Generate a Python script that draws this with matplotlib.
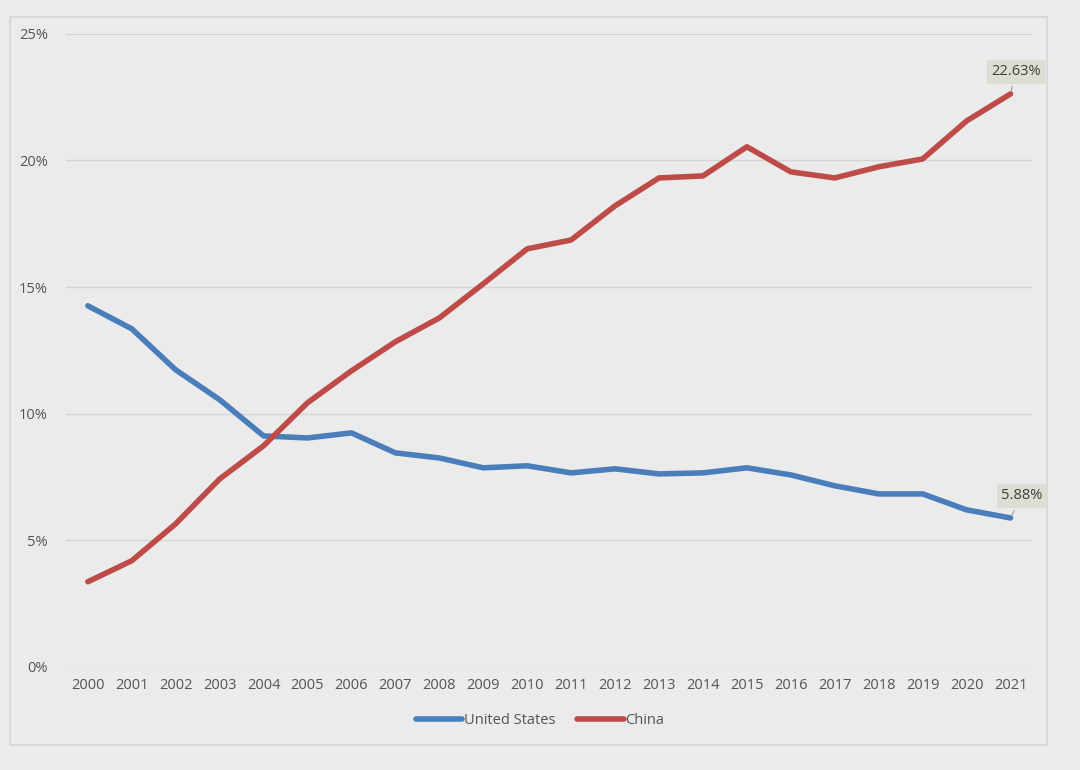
import matplotlib.pyplot as plt
from matplotlib.patches import Rectangle
from matplotlib.ticker import FuncFormatter

years = [str(y) for y in range(2000, 2022)]
us = [14.26, 13.35, 11.73, 10.55, 9.12, 9.04, 9.24, 8.45, 8.25, 7.86, 7.94,
      7.66, 7.82, 7.62, 7.66, 7.86, 7.58, 7.15, 6.83, 6.83, 6.20, 5.88]
china = [3.36, 4.19, 5.65, 7.42, 8.73, 10.43, 11.69, 12.84, 13.78, 15.13, 16.51,
         16.86, 18.21, 19.31, 19.39, 20.54, 19.55, 19.31, 19.75, 20.06, 21.56, 22.63]

plt.rcParams['font.family'] = ['Open Sans', 'DejaVu Sans']
bg = '#ebebeb'
txt = '#555555'

fig = plt.figure(figsize=(10.8, 7.7), dpi=100, facecolor=bg)
ax = fig.add_axes([0.061, 0.134, 0.895, 0.822], facecolor=bg)

# chart panel border
fig.patches.append(Rectangle((10 / 1080, 1 - 745 / 770), 1037 / 1080, 728 / 770,
                             transform=fig.transFigure, fill=False,
                             edgecolor='#d6d6d6', linewidth=1.2))

x = list(range(len(years)))
ax.plot(x, us, color='#4a7ebb', linewidth=4, solid_capstyle='round',
        solid_joinstyle='round', label='United States', zorder=3)
ax.plot(x, china, color='#be4b48', linewidth=4, solid_capstyle='round',
        solid_joinstyle='round', label='China', zorder=3)

ax.set_xlim(-0.5, len(years) - 0.5)
ax.set_ylim(0, 25)
ax.set_yticks([0, 5, 10, 15, 20, 25])
ax.yaxis.set_major_formatter(FuncFormatter(lambda v, p: f'{v:.0f}%'))
ax.set_xticks(x)
ax.set_xticklabels(years)
ax.tick_params(axis='both', length=0, labelsize=10.5, colors=txt)
ax.tick_params(axis='y', pad=13)
ax.tick_params(axis='x', pad=8)
ax.grid(axis='y', color='#d4d4d4', linewidth=1)
ax.set_axisbelow(True)
for s in ax.spines.values():
    s.set_visible(False)

box = dict(boxstyle='square,pad=0.3', facecolor='#deddd3', edgecolor='none')
arrow = dict(arrowstyle='-', color='#a0a0a0', linewidth=0.8)
ax.annotate(f'{china[-1]:.2f}%', xy=(x[-1], china[-1]), xytext=(4, 16),
            textcoords='offset points', ha='center', va='center', fontsize=10.5,
            color='#404040', bbox=box, arrowprops=arrow, zorder=4)
ax.annotate(f'{us[-1]:.2f}%', xy=(x[-1], us[-1]), xytext=(8, 16),
            textcoords='offset points', ha='center', va='center', fontsize=10.5,
            color='#404040', bbox=box, arrowprops=arrow, zorder=4)

leg = fig.legend(loc='center', bbox_to_anchor=(0.5, 1 - 721 / 770), ncol=2,
                 frameon=False, fontsize=10.5, handlelength=3.2, handletextpad=0.1,
                 columnspacing=1.5)
for t in leg.get_texts():
    t.set_color(txt)

fig.savefig('out.png', dpi=100, facecolor=bg)
